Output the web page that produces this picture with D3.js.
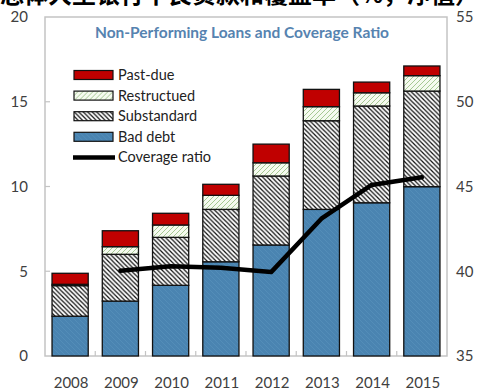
<!DOCTYPE html>
<html><head><meta charset="utf-8">
<script src="https://cdn.jsdelivr.net/npm/d3@7"></script>
<style>body{margin:0;background:#fff}svg{display:block}</style>
</head><body><svg id="c" width="483" height="390"></svg>
<script>
const years = ["2008","2009","2010","2011","2012","2013","2014","2015"];
const badDebt      = [2.35, 3.24, 4.17, 5.56, 6.55, 8.65, 9.04, 9.99];
const substandard  = [1.80, 2.76, 2.83, 3.09, 4.07, 5.23, 5.71, 5.64];
const restructured = [0.08, 0.45, 0.73, 0.83, 0.78, 0.83, 0.78, 0.91];
const pastDue      = [0.65, 0.94, 0.69, 0.65, 1.10, 1.02, 0.63, 0.57];
const coverageYears = ["2009","2010","2011","2012","2013","2014","2015"];
const coverage      = [40.03, 40.30, 40.20, 39.95, 43.10, 45.09, 45.54];
const leftTicks  = [0, 5, 10, 15, 20];
const rightTicks = [35, 40, 45, 50, 55];
const seriesNames = ["Past-due","Restructued","Substandard","Bad debt","Coverage ratio"];
const titleText = "Non-Performing Loans and Coverage Ratio";
const headText = "总体大型银行不良贷款和覆盖率（%，净值）";

const svg = d3.select("#c");
const FONT = "Lato, 'Open Sans', sans-serif";
const L = 45, R = 447, T = 17, B = 356;

const x = d3.scaleBand().domain(years).range([L, R]).paddingInner(0.28).paddingOuter(0.14);
const yL = d3.scaleLinear().domain([0, 20]).range([B, T]);
const yR = d3.scaleLinear().domain([35, 55]).range([B, T]);

// patterns
const defs = svg.append("defs");
const ps = defs.append("pattern").attr("id","sub").attr("patternUnits","userSpaceOnUse").attr("width",4.5).attr("height",4.5);
ps.append("rect").attr("width",4.5).attr("height",4.5).attr("fill","#fff");
ps.append("path").attr("d","M-1,-1L5.5,5.5M-1,3.5L1,5.5M3.5,-1L5.5,1").attr("stroke","#111").attr("stroke-width",1.25);
const pr = defs.append("pattern").attr("id","res").attr("patternUnits","userSpaceOnUse").attr("width",5).attr("height",5);
pr.append("rect").attr("width",5).attr("height",5).attr("fill","#f5faef");
pr.append("path").attr("d","M-1,6L6,-1M-1,1L1,-1M4,6L6,4").attr("stroke","#a6c893").attr("stroke-width",1);
const pb = defs.append("pattern").attr("id","bad").attr("patternUnits","userSpaceOnUse").attr("width",5).attr("height",5);
pb.append("rect").attr("width",5).attr("height",5).attr("fill","#4a84b1");
pb.append("path").attr("d","M-1,-1L6,6M-1,4L1,6M4,-1L6,1").attr("stroke","#538db8").attr("stroke-width",1);

// header text (clipped at top)
svg.append("text").attr("x", 0).attr("y", 3).attr("font-family","'Noto Sans CJK SC'").attr("font-weight","bold")
  .attr("font-size", 24).attr("fill","#000").text(headText);

// frame
svg.append("rect").attr("x",L).attr("y",T).attr("width",R-L).attr("height",B-T)
  .attr("fill","none").attr("stroke","#c4c4c4").attr("stroke-width",1.5);

// left ticks inside
svg.append("g").selectAll("line").data(leftTicks.slice(1,-1)).join("line")
  .attr("x1",L).attr("x2",L+5).attr("y1",d=>yL(d)).attr("y2",d=>yL(d)).attr("stroke","#c4c4c4").attr("stroke-width",1.2);
// bottom category ticks between bands
const step = x.step();
svg.append("g").selectAll("line").data(years.slice(1)).join("line")
  .attr("x1",d=>x(d)-step*x.paddingInner()/2).attr("x2",d=>x(d)-step*x.paddingInner()/2)
  .attr("y1",B).attr("y2",B-5).attr("stroke","#c4c4c4").attr("stroke-width",1.2);

// title
svg.append("text").attr("x",(L+R)/2-4).attr("y",38).attr("text-anchor","middle")
  .attr("font-family",FONT).attr("font-weight","bold").attr("font-size",15.5).attr("fill","#5683b0").text(titleText);

// stacked bars
const table = years.map((yr,i)=>({year:yr, bad:badDebt[i], sub:substandard[i], res:restructured[i], past:pastDue[i]}));
const keys = ["bad","sub","res","past"];
const fills = {bad:"url(#bad)", sub:"url(#sub)", res:"url(#res)", past:"#c00000"};
const stack = d3.stack().keys(keys)(table);
svg.append("g").selectAll("g").data(stack).join("g").attr("fill",d=>fills[d.key])
  .selectAll("rect").data(d=>d).join("rect")
  .attr("x",d=>x(d.data.year)).attr("width",x.bandwidth())
  .attr("y",d=>yL(d[1])).attr("height",d=>yL(d[0])-yL(d[1]))
  .attr("stroke","#111").attr("stroke-width",1.3);

// coverage line
const line = d3.line().x((d,i)=>x(coverageYears[i])+x.bandwidth()/2).y(d=>yR(d)).curve(d3.curveLinear);
svg.append("path").datum(coverage).attr("d",line).attr("fill","none").attr("stroke","#000")
  .attr("stroke-width",4.5).attr("stroke-linejoin","round").attr("stroke-linecap","round");

// axes labels
const lab = {"font-family":FONT, "font-size":15, "fill":"#404040"};
function applyAttrs(sel){ for (const k in lab) sel.attr(k, lab[k]); return sel; }
applyAttrs(svg.append("g").selectAll("text").data(leftTicks).join("text")
  .attr("x",28).attr("y",d=>yL(d)).attr("dy","0.35em").attr("text-anchor","end").text(d=>d));
applyAttrs(svg.append("g").selectAll("text").data(rightTicks).join("text")
  .attr("x",456).attr("y",d=>yR(d)).attr("dy","0.35em").attr("text-anchor","start").text(d=>d));
applyAttrs(svg.append("g").selectAll("text").data(years).join("text")
  .attr("x",d=>x(d)+x.bandwidth()/2+1).attr("y",388).attr("text-anchor","middle").text(d=>d));

// legend
const legFills = ["#c00000","url(#res)","url(#sub)","url(#bad)",null];
const lg = svg.append("g").selectAll("g").data(seriesNames).join("g")
  .attr("transform",(d,i)=>`translate(74,${75 + i*20.6})`);
lg.each(function(d,i){
  const g = d3.select(this);
  if (legFills[i]) g.append("rect").attr("x",0).attr("y",-4.5).attr("width",39).attr("height",9)
    .attr("fill",legFills[i]).attr("stroke","#111").attr("stroke-width",1.2);
  else g.append("line").attr("x1",-1).attr("x2",41).attr("y1",0).attr("y2",0).attr("stroke","#000").attr("stroke-width",4.5);
});
lg.append("text").attr("x",44).attr("y",0).attr("dy","0.35em").attr("font-family",FONT).attr("font-size",14.5)
  .attr("fill","#222").text(d=>d);
</script></body></html>
